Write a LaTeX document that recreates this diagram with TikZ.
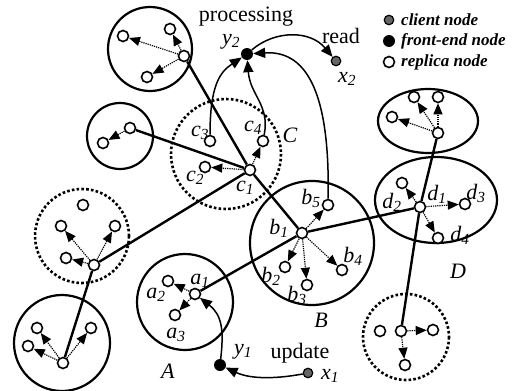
\documentclass[tikz,border=0pt]{standalone}
\usepackage{fontspec}
\setmainfont{Liberation Serif}
\usetikzlibrary{arrows.meta}

\newcommand{\nlab}[2]{\textit{#1\textsubscript{#2}}}

\tikzset{
  replica/.style={circle, draw, line width=1.6pt, fill=white, minimum size=11pt, inner sep=0pt},
  frontend/.style={circle, fill=black, minimum size=12pt, inner sep=0pt},
  client/.style={circle, draw, line width=1.2pt, fill=black!60, minimum size=9.5pt, inner sep=0pt},
  cluster/.style={line width=2.2pt},
  dcluster/.style={line width=2.6pt, dash pattern=on 2.6pt off 2.2pt},
  link/.style={line width=2.4pt},
  push/.style={line width=1.2pt, dash pattern=on 1.2pt off 1pt, -{Triangle[length=11pt,width=9pt]}},
  req/.style={line width=1.5pt, -{Triangle[length=12pt,width=10pt]}},
  lab/.style={font=\fontsize{22}{24}\selectfont, inner sep=0pt},
  legend/.style={font=\fontsize{17}{19}\selectfont\bfseries\itshape, anchor=west, inner sep=0pt}
}

\begin{document}
\begin{tikzpicture}[x=1pt, y=-1pt]
    \useasboundingbox (0,0) rectangle (520,391);

    % Draw the clusters (solid: full, dotted: partial)
    \draw[cluster] (150,49) circle (42);
    \draw[cluster] (120,136) circle (33);
    \draw[dcluster] (226,154) circle (55);
    \draw[dcluster] (82,236) circle (47);
    \draw[cluster] (62,343) circle (48);
    \draw[cluster] (185,302) circle (48);
    \draw[cluster] (312,243) circle (62);
    \draw[cluster] (436,200) ellipse [x radius=61, y radius=43];
    \draw[cluster] (428,121) ellipse [x radius=50, y radius=32];
    \draw[dcluster] (406,337) circle (43);

    % Draw replica nodes
    \foreach \n/\x/\y in {t0/184/56, t1/123/36, t2/170/29, t3/147/77,
                          l0/130/128, l1/103/143,
                          c1/250/170, c2/205/167, c3/210/141, c4/263/141,
                          m0/94/265, m1/61/226, m2/115/226, m3/66/258, m4/83/205,
                          g0/63/363, g1/37/328, g2/28/346, g3/91/328,
                          a1/195/294, a2/168/281, a3/175/315,
                          b1/302/233, b2/285/267, b3/307/285, b4/342/270, b5/328/205,
                          d1/420/207, d2/402/183, d3/465/204, d4/438/238,
                          r0/438/133, r1/414/97, r2/438/97, r3/392/117,
                          s0/401/331, s1/380/331, s2/433/330, s3/405/365} {
        \node[replica] (\n) at (\x,\y) {};
    }

    % Draw front-end and client nodes
    \node[frontend] (y2) at (247,54) {};
    \node[frontend] (y1) at (220,365) {};
    \node[client] (x2) at (336,61) {};
    \node[client] (x1) at (308,373) {};

    % Draw links between the cluster heads
    \draw[link] (t0) -- (c1);
    \draw[link] (l0) -- (c1);
    \draw[link] (m0) -- (c1);
    \draw[link] (g0) -- (m0);
    \draw[link] (c1) -- (b1);
    \draw[link] (a1) -- (b1);
    \draw[link] (b1) -- (d1);
    \draw[link] (d1) -- (r0);
    \draw[link] (d1) -- (s0);

    % Draw propagation inside each cluster
    \foreach \h/\t in {t0/t1, t0/t2, t0/t3, l0/l1, m0/m1, m0/m2, m0/m3,
                       g0/g1, g0/g2, g0/g3, c1/c2, c1/c4, a1/a2, a1/a3,
                       b1/b2, b1/b3, b1/b4, b1/b5, d1/d2, d1/d3, d1/d4,
                       r0/r1, r0/r2, r0/r3, s0/s2, s0/s3} {
        \draw[push] (\h) -- (\t);
    }

    % Draw client requests
    \draw[req] (x1) .. controls (270,380) and (248,378) .. (y1);
    \draw[req] (y1) .. controls (224,330) and (222,315) .. (a1);
    \draw[req] (c3) .. controls (210,85) and (220,72) .. (y2);
    \draw[req] (c4) .. controls (270,105) and (250,95) .. (y2);
    \draw[req] (b5) .. controls (330,100) and (310,50) .. (y2);
    \draw[req] (y2) .. controls (275,30) and (310,30) .. (x2);

    % Labels
    \node[lab] (tproc) at (246,17) {processing};
    \node[lab] (tread) at (341,36) {read};
    \node[lab] (tupd) at (300,353) {update};
    \node[lab] (ly2) at (231,42) {\nlab{y}{2}};
    \node[lab] (lx2) at (347,79) {\nlab{x}{2}};
    \node[lab] (ly1) at (243,352) {\nlab{y}{1}};
    \node[lab] (lx1) at (330,376) {\nlab{x}{1}};
    \node[lab] (lc1) at (245,188) {\nlab{c}{1}};
    \node[lab] (lc2) at (195,178) {\nlab{c}{2}};
    \node[lab] (lc3) at (200,133) {\nlab{c}{3}};
    \node[lab] (lc4) at (253,128) {\nlab{c}{4}};
    \node[lab] (lC) at (290,135) {\textit{C}};
    \node[lab] (la1) at (200,281) {\nlab{a}{1}};
    \node[lab] (la2) at (156,295) {\nlab{a}{2}};
    \node[lab] (la3) at (176,335) {\nlab{a}{3}};
    \node[lab] (lA) at (168,371) {\textit{A}};
    \node[lab] (lb1) at (279,228) {\nlab{b}{1}};
    \node[lab] (lb2) at (271,276) {\nlab{b}{2}};
    \node[lab] (lb3) at (297,295) {\nlab{b}{3}};
    \node[lab] (lb4) at (353,256) {\nlab{b}{4}};
    \node[lab] (lb5) at (311,198) {\nlab{b}{5}};
    \node[lab] (lB) at (321,320) {\textit{B}};
    \node[lab] (ld1) at (437,194) {\nlab{d}{1}};
    \node[lab] (ld2) at (392,202) {\nlab{d}{2}};
    \node[lab] (ld3) at (476,193) {\nlab{d}{3}};
    \node[lab] (ld4) at (460,235) {\nlab{d}{4}};
    \node[lab] (lD) at (458,271) {\textit{D}};

    % Legend
    \node[client] (kc) at (389,20) {};
    \node[frontend] (kf) at (389,41) {};
    \node[replica] (kr) at (389,62) {};
    \node[legend] (tkc) at (401,20) {client node};
    \node[legend] (tkf) at (401,41) {front-end node};
    \node[legend] (tkr) at (401,62) {replica node};
\end{tikzpicture}
\end{document}
